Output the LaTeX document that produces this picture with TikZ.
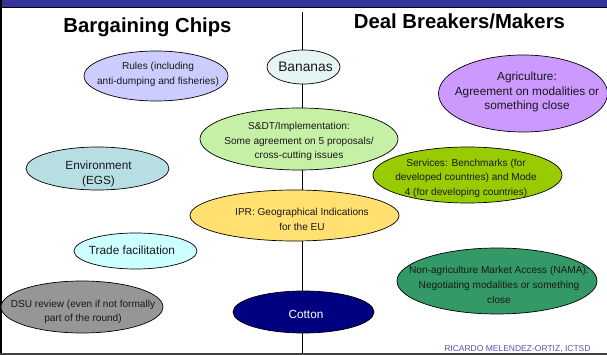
\documentclass[tikz,border=0pt]{standalone}
\usepackage{fontspec}
\setmainfont{Liberation Sans}
\usetikzlibrary{shapes.geometric}
\definecolor{bandblue}{HTML}{333399}
\definecolor{authorblue}{HTML}{5555AA}
\tikzset{
  x=1pt,y=-1pt,
  oval/.style={ellipse,draw=black,line width=0.7pt,inner sep=0pt,minimum width=#1},
  ovalh/.style={minimum height=#1},
  txt/.style={align=center,text=#1,inner sep=0pt},
  txt/.default={black!90},
  title/.style={font=\fontsize{20.3}{23}\selectfont\bfseries,inner sep=0pt},
  small/.style={font=\fontsize{10.1}{14.7}\selectfont},
  mid/.style={font=\fontsize{11.8}{14.7}\selectfont},
}
\begin{document}
\begin{tikzpicture}
\useasboundingbox (0,0) rectangle (607,355);
\fill[white] (0,0) rectangle (607,355);
% frame
\fill[black] (0,0) rectangle (2.3,355);
\fill[black!75] (0,353.2) rectangle (607,355);
\fill[bandblue] (2.3,0) rectangle (607,7);
\draw[black,line width=0.5pt] (2.3,7.3) -- (607,7.3);
% centre divider
\coordinate (dtop) at (302,12);
\coordinate (dbot) at (302,353);
\draw[black,line width=0.6pt] (dtop) -- (dbot);
% titles
\node[title] (chips) at (147.5,27.5) {Bargaining Chips};
\node[title] (deal) at (459.5,21.5) {Deal Breakers/Makers};
% ovals
\node[oval=144pt,ovalh=50pt,fill={rgb,255:red,204;green,204;blue,255}] (rules) at (156,76) {};
\node[oval=73pt,ovalh=34pt,fill={rgb,255:red,230;green,244;blue,244}] (bananas) at (303.5,67) {};
\node[oval=169pt,ovalh=77pt,fill={rgb,255:red,204;green,153;blue,255}] (agri) at (523,93.5) {};
\node[oval=198pt,ovalh=62pt,fill={rgb,255:red,198;green,240;blue,165}] (sdt) at (299,139) {};
\node[oval=143pt,ovalh=43pt,fill={rgb,255:red,183;green,222;blue,226}] (env) at (97.5,168.5) {};
\node[oval=189pt,ovalh=56pt,fill={rgb,255:red,153;green,204;blue,0}] (serv) at (467.5,175) {};
\node[oval=209pt,ovalh=51pt,fill={rgb,255:red,255;green,224;blue,112}] (ipr) at (294.5,215.5) {};
\node[oval=123pt,ovalh=36pt,fill={rgb,255:red,204;green,255;blue,255}] (trade) at (135.5,251) {};
\node[oval=162pt,ovalh=52pt,fill={rgb,255:red,150;green,150;blue,150}] (dsu) at (82,307) {};
\node[oval=141pt,ovalh=42pt,fill={rgb,255:red,0;green,0;blue,128}] (cotton) at (303.5,312) {};
\node[oval=200pt,ovalh=66pt,fill={rgb,255:red,51;green,153;blue,102}] (nama) at (497,281) {};
% labels
\node[txt,small] at (158,74.5) {Rules (including\\anti-dumping and fisheries)};
\node[txt,font=\fontsize{13.8}{15}\selectfont] at (305.5,67) {Bananas};
\node[txt,mid] at (527,92) {Agriculture:\\Agreement on modalities or\\something close};
\node[txt,small] at (299,141.5) {S\&DT/Implementation:\\Some agreement on 5 proposals/\\cross-cutting issues};
\node[txt,mid] at (98.5,174) {Environment\\(EGS)};
\node[txt,small] at (466,178.2) {Services: Benchmarks (for\\developed countries) and Mode\\4 (for developing countries)};
\node[txt,small] at (302,219.5) {IPR: Geographical Indications\\for the EU};
\node[txt,mid] at (132,250) {Trade facilitation};
\node[txt,small] at (83,312) {DSU review (even if not formally\\part of the round)};
\node[txt=white,mid] at (306,314) {Cotton};
\node[txt,small] at (499,285) {Non-agriculture Market Access (NAMA):\\Negotiating modalities or something\\close};
\node[txt=authorblue,font=\fontsize{8.5}{9}\selectfont,anchor=east] (author) at (590.7,349) {RICARDO MELENDEZ-ORTIZ, ICTSD};
\end{tikzpicture}
\end{document}
